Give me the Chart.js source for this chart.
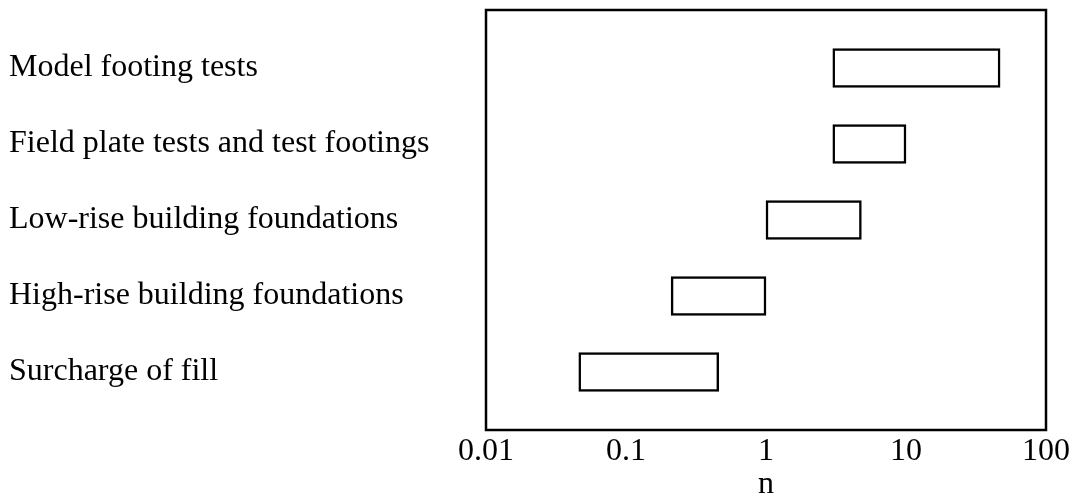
<!DOCTYPE html>
<html><head><meta charset="utf-8">
<script src="https://cdn.jsdelivr.net/npm/chart.js@4.4.0/dist/chart.umd.min.js"></script>
<style>html,body{margin:0;padding:0;background:#fff}</style>
</head><body><canvas id="c" width="1077" height="499"></canvas>
<script>
const categories = ["Model footing tests","Field plate tests and test footings","Low-rise building foundations","High-rise building foundations","Surcharge of fill"];
const lowValues = [3, 3, 1, 0.21, 0.046];
const highValues = [47, 10, 4.8, 1, 0.46];
const xTicks = [0.01, 0.1, 1, 10, 100];
const FONT = "'Liberation Serif','Times New Roman',serif";

const frame = {
  id: 'frame',
  afterDraw(chart) {
    const a = chart.chartArea, ctx = chart.ctx;
    ctx.save(); ctx.strokeStyle = '#000'; ctx.lineWidth = 2.5;
    ctx.strokeRect(a.left, a.top, a.right - a.left, a.bottom - a.top);
    ctx.restore();
  }
};

new Chart(document.getElementById('c'), {
  type: 'bar',
  data: {
    datasets: [{
      data: categories.map((c, i) => ({ y: i, x: [lowValues[i], highValues[i]] })),
      backgroundColor: '#fff', borderColor: '#000', borderWidth: 2.5, borderSkipped: false,
      barThickness: 39
    }]
  },
  plugins: [frame],
  options: {
    indexAxis: 'y', responsive: false, animation: false,
    layout: { padding: { left: 9, right: 31, top: 10, bottom: 0 } },
    plugins: { legend: { display: false }, tooltip: { enabled: false } },
    scales: {
      x: {
        type: 'logarithmic', min: 0.01, max: 100,
        afterBuildTicks: s => { s.ticks = xTicks.map(v => ({ value: v })); },
        afterFit: s => { s.height = 69; },
        grid: { display: false, drawTicks: false }, border: { display: false },
        ticks: { color: '#000', font: { family: FONT, size: 32 }, padding: 2, maxRotation: 0, autoSkip: false,
                 callback: v => String(v) },
        title: { display: true, text: 'n', color: '#000', font: { family: FONT, size: 32, lineHeight: 1 }, padding: { top: 0, bottom: -2 } }
      },
      y: {
        type: 'linear', min: -0.763, max: 4.763, reverse: true, offset: false,
        afterBuildTicks: s => { s.ticks = categories.map((c, i) => ({ value: i })); },
        afterFit: s => { s.width = 477; s.paddingTop = 0; s.paddingBottom = 0; },
        grid: { display: false, drawTicks: false, offset: false }, border: { display: false },
        ticks: { color: '#000', crossAlign: 'far', font: { family: FONT, size: 32 }, autoSkip: false,
                 callback: v => categories[v] }
      }
    }
  }
});
</script>
</body></html>
